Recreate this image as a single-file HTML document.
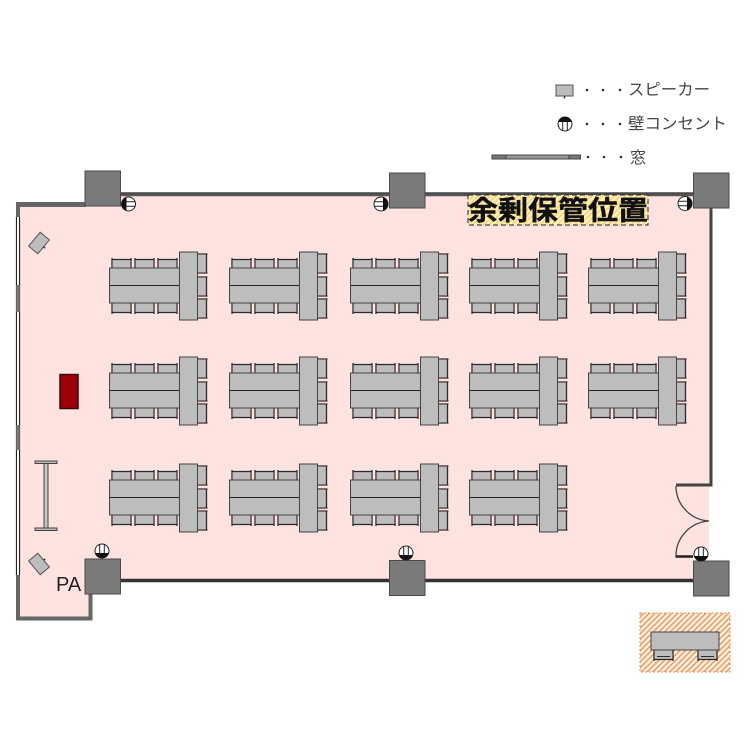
<!DOCTYPE html>
<html><head><meta charset="utf-8">
<style>html,body{margin:0;padding:0;background:#fff}svg{display:block}
text{font-family:"Noto Sans CJK JP",sans-serif}</style></head>
<body>
<svg xmlns="http://www.w3.org/2000/svg" width="750" height="750" viewBox="0 0 750 750">
<defs>
<pattern id="h" width="4" height="4" patternUnits="userSpaceOnUse" patternTransform="rotate(45)">
<rect width="4" height="4" fill="#fdf1e4"/><rect width="1.500" height="4" fill="#ee9a5e"/></pattern>
<pattern id="y" width="4" height="4" patternUnits="userSpaceOnUse" patternTransform="rotate(45)">
<rect width="4" height="4" fill="#fff6c8"/><rect width="2" height="4" fill="#fbd680"/></pattern>
<g id="ch"><rect x="1" y="1" width="17" height="10" fill="#bdbdbd"/><path d="M0 1.500H19M0 0V11M19 0V11" stroke="#2a2a2a" stroke-width="1.300" fill="none"/></g>
<g id="chb"><rect x="1" y="0" width="17" height="10" fill="#bdbdbd"/><path d="M0 9.500H19M0 0V11M19 0V11" stroke="#2a2a2a" stroke-width="1.300" fill="none"/></g>
<g id="chr"><rect x="0" y="1" width="9" height="17" fill="#bdbdbd"/><path d="M9.500 0V19M0 0H10.500M0 19H10.500" stroke="#2a2a2a" stroke-width="1.300" fill="none"/></g>
<g id="t">
<use href="#ch" x="2" y="6"/><use href="#ch" x="25" y="6"/><use href="#ch" x="48" y="6"/>
<use href="#chb" x="2" y="51"/><use href="#chb" x="25" y="51"/><use href="#chb" x="48" y="51"/>
<use href="#chr" x="87" y="2"/><use href="#chr" x="87" y="25"/><use href="#chr" x="87" y="47"/>
<rect x="-0.500" y="16" width="70" height="35" fill="#bdbdbd" stroke="#444" stroke-width="1"/>
<path d="M0 33.500H69.500" stroke="#222" stroke-width="1"/>
<rect x="69.500" y="0" width="18" height="68" fill="#bdbdbd" stroke="#444" stroke-width="1"/>
</g>
<g id="o"><circle r="7" fill="#fff" stroke="#222" stroke-width="1"/><path d="M-6.700-2A7 7 0 0 1 6.700-2Z" fill="#111"/><path d="M-2.300-2V6.500M2.300-2V6.500" stroke="#222" stroke-width="1"/></g>
<g id="col"><rect x="0.500" y="0.500" width="35.500" height="35" fill="#7a7a7a" stroke="#4a4a4a" stroke-width="1"/></g>
<g id="sp"><rect x="-8.500" y="-5.500" width="17" height="11" fill="#bdbdbd" stroke="#555" stroke-width="1"/><path d="M0 5.500V8" stroke="#333" stroke-width="1.500"/></g>
</defs>

<rect width="750" height="750" fill="#fff"/>
<!-- room floor -->
<path d="M18 205H85V195H711V485H709V557H693V581H90V618H18Z" fill="#ffe3e0"/>
<!-- walls -->
<path d="M120 194.500H693" stroke="#555" stroke-width="3.500" fill="none"/>
<path d="M120 192.800H693" stroke="#222" stroke-width=".8" fill="none"/>
<path d="M16 204.500H86" stroke="#666" stroke-width="5" fill="none"/>
<path d="M18 203V217" stroke="#666" stroke-width="4" fill="none"/>
<path d="M16.500 217V575M19.500 217V575" stroke="#222" stroke-width="1.200" fill="none"/>
<path d="M18 217V575" stroke="#fff" stroke-width="1.800" fill="none"/>
<path d="M18 285V312M18 425V450" stroke="#777" stroke-width="3.500" fill="none"/>
<path d="M18 575V618.500H90.500V593" stroke="#666" stroke-width="4" fill="none"/>
<path d="M120 580.500H693" stroke="#333" stroke-width="3.500" fill="none"/>
<path d="M711 208V485H676" stroke="#444" stroke-width="3" fill="none"/>
<!-- door -->
<path d="M676 486A35 35 0 0 0 709 521A35 35 0 0 0 676 556" stroke="#444" stroke-width="1.300" fill="none"/>
<path d="M675.500 556.500H693" stroke="#222" stroke-width="2.500" fill="none"/>
<!-- columns -->
<use href="#col" x="84.500" y="170.500"/>
<use href="#col" x="389" y="172.500"/>
<use href="#col" x="693" y="172.500"/>
<use href="#col" x="84.500" y="558.500"/>
<use href="#col" x="389" y="560"/>
<use href="#col" x="693" y="560.500"/>
<!-- outlets -->
<g transform="translate(128.500,204) rotate(-90)"><use href="#o"/></g>
<g transform="translate(381,204) rotate(90)"><use href="#o"/></g>
<g transform="translate(685,203.500) rotate(90)"><use href="#o"/></g>
<g transform="translate(102,551) rotate(180)"><use href="#o"/></g>
<g transform="translate(406,553) rotate(180)"><use href="#o"/></g>
<g transform="translate(701,554) rotate(180)"><use href="#o"/></g>
<!-- tables -->
<use href="#t" x="110" y="252"/><use href="#t" x="230" y="252"/><use href="#t" x="351" y="252"/><use href="#t" x="470" y="252"/><use href="#t" x="589" y="252"/>
<use href="#t" x="110" y="357"/><use href="#t" x="230" y="357"/><use href="#t" x="351" y="357"/><use href="#t" x="470" y="357"/><use href="#t" x="589" y="357"/>
<use href="#t" x="110" y="464"/><use href="#t" x="230" y="464"/><use href="#t" x="351" y="464"/><use href="#t" x="470" y="464"/>
<!-- podium -->
<rect x="60" y="374.500" width="18" height="34" fill="#9c0008" stroke="#3a0a0a" stroke-width="1.500"/>
<!-- screen -->
<rect x="44" y="462" width="4" height="68" fill="#c4c4c4" stroke="#444" stroke-width="1"/>
<rect x="35" y="461" width="22" height="2.500" fill="#bbb" stroke="#444" stroke-width="1"/>
<rect x="35" y="528" width="22" height="2.500" fill="#bbb" stroke="#444" stroke-width="1"/>
<!-- speakers -->
<g transform="translate(39,243) rotate(-50)"><rect x="-9" y="-6" width="18" height="12" fill="#bdbdbd" stroke="#555"/><path d="M0 6V8" stroke="#333" stroke-width="1.500"/></g>
<g transform="translate(39,564) rotate(50)"><rect x="-9" y="-6" width="18" height="12" fill="#bdbdbd" stroke="#555"/><path d="M0-6V-8" stroke="#333" stroke-width="1.500"/></g>
<text x="56" y="591" font-size="20" fill="#222" style='font-family:"Liberation Sans",sans-serif'>PA</text>
<!-- label -->
<rect x="468" y="195" width="180" height="30" fill="url(#y)"/>
<rect x="468" y="195" width="180" height="30" fill="none" stroke="#222" stroke-width="1" stroke-dasharray="5 3"/>
<text x="468" y="220" font-size="27" font-weight="bold" fill="#111" stroke="#111" stroke-width=".4" textLength="180" lengthAdjust="spacingAndGlyphs">余剰保管位置</text>
<!-- legend -->
<use href="#sp" x="564.500" y="90.500"/>
<use href="#o" x="565" y="124"/>
<rect x="492" y="155" width="88.500" height="4" fill="#999" stroke="#444" stroke-width="1"/>
<rect x="492" y="155" width="14" height="4" fill="#777" stroke="#444" stroke-width="1"/>
<rect x="569" y="155" width="11.500" height="4" fill="#777" stroke="#444" stroke-width="1"/>
<g fill="#333">
<circle cx="587" cy="90" r="1.300"/><circle cx="603" cy="90" r="1.300"/><circle cx="620" cy="90" r="1.300"/>
<circle cx="587" cy="124" r="1.300"/><circle cx="603" cy="124" r="1.300"/><circle cx="620" cy="124" r="1.300"/>
<circle cx="588" cy="157" r="1.300"/><circle cx="604" cy="157" r="1.300"/><circle cx="621" cy="157" r="1.300"/>
</g>
<g font-size="16" fill="#444">
<text x="628" y="95" textLength="82" lengthAdjust="spacingAndGlyphs">スピーカー</text>
<text x="628" y="129" textLength="99" lengthAdjust="spacingAndGlyphs">壁コンセント</text>
<text x="630" y="163">窓</text>
</g>
<!-- storage -->
<rect x="640" y="613" width="90" height="59" fill="url(#h)" stroke="#ef8a50" stroke-width="1" stroke-dasharray="2 2"/>
<use href="#chb" x="654" y="650"/>
<use href="#chb" x="698" y="650"/>
<path d="M657 656.500H670M701 656.500H714" stroke="#2a2a2a" stroke-width="1"/>
<rect x="651" y="632" width="68" height="18" fill="#bdbdbd" stroke="#444" stroke-width="1"/>
</svg>
</body></html>
